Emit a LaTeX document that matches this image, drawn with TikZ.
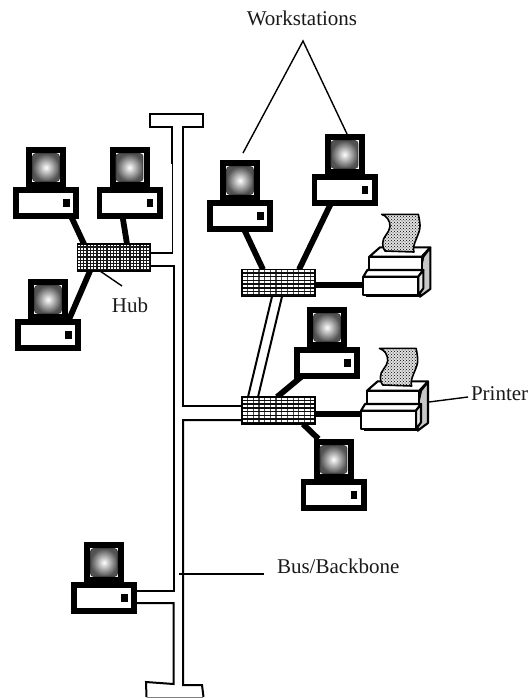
\documentclass[tikz,border=0pt]{standalone}
\usepackage{fontspec}
\setmainfont{Liberation Serif}
\usetikzlibrary{backgrounds,patterns}
\tikzset{
  x=1pt,y=-1pt,
  lab/.style={font=\fontsize{21}{25}\selectfont,inner sep=0pt,outer sep=0pt,text=black!90},
  basebox/.style={draw=black,line width=5.6pt,fill=white,minimum width=60.4pt,minimum height=26.4pt,inner sep=0pt,outer sep=0pt},
  monbox/.style={fill=black,minimum width=40pt,minimum height=40pt,inner sep=0pt,outer sep=0pt},
  frontbox/.style={draw=black,line width=2.1pt,fill=white,minimum width=55pt,minimum height=18.3pt,inner sep=0pt,outer sep=0pt},
  thicklink/.style={line width=5.8pt,black},
  bus/.style={line width=2pt,black,line join=miter},
  leader/.style={line width=1.4pt,black},
  hubbox/.style={draw=black,line width=1.5pt,fill=white,minimum width=73pt,minimum height=27pt,inner sep=0pt,outer sep=0pt},
  hubfine/.style={hubbox,path picture={
    \foreach \i in {3,6.3,...,73}{\draw[line width=1.3pt,black!90] ([xshift=\i pt]path picture bounding box.north west)--([xshift=\i pt]path picture bounding box.south west);}
    \foreach \j in {3,6.3,...,27}{\draw[line width=1.3pt,black!90] ([yshift=-\j pt]path picture bounding box.north west)--([yshift=-\j pt]path picture bounding box.north east);}
  }},
  hubwide/.style={hubbox,path picture={
    \foreach \i in {5.5,11.2,...,73}{\draw[line width=1.2pt,black!70] ([xshift=\i pt]path picture bounding box.north west)--([xshift=\i pt]path picture bounding box.south west);}
    \foreach \j in {3.5,7.2,...,27}{\draw[line width=1.5pt,black!95] ([yshift=-\j pt]path picture bounding box.north west)--([yshift=-\j pt]path picture bounding box.north east);}
  }},
  computer/.pic={
    \node[monbox] (-mon) at (33,-20) {};
    \fill[white] (19,-34) rectangle (47,-5);
    \path[rounded corners=3pt,inner color=white,outer color=black!68,draw=black!75,line width=.9pt] (19.6,-33.4) rectangle (46.4,-5.6);
    \node[basebox] (-base) at (33,16) {};
    \fill[black] (50,11.7) rectangle (56.7,20);
  },
  printer/.pic={
    \begin{scope}[x=.3333pt,y=-.3333pt,line width=2.1pt,line join=round]
      \filldraw[fill=black!22] (205,155) -- (226,128) -- (226,252) -- (195,275) -- (195,200) -- cycle;
      \filldraw[fill=white] (43,155) -- (75,127) -- (226,127) -- (200,155) -- cycle;
      \filldraw[fill=white] (43,155) rectangle (200,197);
      \filldraw[line width=1.6pt,fill=black!12] (80,28) .. controls (95,32) and (106,48) .. (105,65) .. controls (103,85) and (82,95) .. (83,115) .. controls (84,128) and (86,134) .. (90,138) -- (177,141) .. controls (168,120) and (198,85) .. (195,60) .. controls (194,48) and (192,36) .. (190,28) -- cycle;
      \fill[pattern=crosshatch dots,pattern color=black] (80,28) .. controls (95,32) and (106,48) .. (105,65) .. controls (103,85) and (82,95) .. (83,115) .. controls (84,128) and (86,134) .. (90,138) -- (177,141) .. controls (168,120) and (198,85) .. (195,60) .. controls (194,48) and (192,36) .. (190,28) -- cycle;
      \filldraw[fill=white] (25,215) -- (37,195) -- (205,195) -- (190,215) -- cycle;
      \filldraw[fill=black!10] (190,215) -- (205,195) -- (205,250) -- (190,270) -- cycle;
      \node[frontbox] (-front) at (107.5,242.5) {};
      \draw[line width=1.8pt] (33,274) -- (192,274);
    \end{scope}
  }
}
\begin{document}
\begin{tikzpicture}
\useasboundingbox (0,0) rectangle (529,698);
% computers
\pic (c1) at (13,187) {computer};
\pic (c2) at (96.5,187) {computer};
\pic (c3) at (15,319) {computer};
\pic (c4) at (207,200) {computer};
\pic (c5) at (311.5,174) {computer};
\pic (c6) at (294,347) {computer};
\pic (c7) at (300.5,479) {computer};
\pic (c8) at (71,582) {computer};
% printers
\pic (p1) at (355,205) {printer};
\pic (p2) at (352.7,339) {printer};
% hubs
\node[hubfine] (hub1) at (114,257.5) {};
\node[hubwide] (hub2) at (278.5,283) {};
\node[hubwide] (hub3) at (278.5,410.5) {};
% labels
\node[lab,anchor=base] (wk) at (302,25.7) {Workstations};
\node[lab,anchor=base] (hublab) at (130,312) {Hub};
\node[lab,anchor=base west] (prlab) at (471,400) {Printer};
\node[lab,anchor=base west] (buslab) at (277,573.5) {Bus/Backbone};
% free ends
\coordinate (apex) at (303,41);
\coordinate (hubtip) at (122,286);
\coordinate (busmark) at (179,574);
\coordinate (busend) at (264,574);
\coordinate (prtip) at (429,402);
\coordinate (prend) at (468,397);
\begin{scope}[on background layer]
  \draw[thicklink] ([xshift=25pt]c1-base.south) -- ([xshift=-30pt]hub1.north);
  \draw[thicklink] ([xshift=-7pt]c2-base.south) -- ([xshift=13pt]hub1.north);
  \draw[thicklink] ([xshift=-24pt]hub1.south) -- ([xshift=20pt]c3-base.north);
  \draw[thicklink] ([xshift=4pt]c4-base.south) -- ([xshift=-15.5pt]hub2.north);
  \draw[thicklink] ([xshift=-13.5pt]c5-base.south) -- ([xshift=20.5pt]hub2.north);
  \draw[thicklink] ([yshift=-2pt]hub2.east) -- ([yshift=-2pt]hub2.east -| p1-front.west);
  \draw[thicklink] ([xshift=-25pt]c6-base.south) -- ([xshift=-1.5pt]hub3.north);
  \draw[thicklink] ([xshift=24.5pt]hub3.south) -- ([xshift=-15pt]c7-mon.north);
  \draw[thicklink] ([yshift=-3.5pt]hub3.east) -- ([yshift=-3.5pt]hub3.east -| p2-front.west);
  \draw[bus] ([xshift=-6.5pt]hub2.south) -- ([xshift=-30.5pt]hub3.north);
  \draw[bus] ([xshift=3.5pt]hub2.south) -- ([xshift=-20.5pt]hub3.north);
  % backbone
  \draw[line width=1.2pt] ([yshift=4.5pt]hub1.east) -- (172.3,253) -- (172.3,163);
  \draw[bus] (172.3,164) -- (172.3,127) -- (150,127) -- (150,114) -- (203,114) -- (203,127) -- (183,127) -- (183,406) -- ([yshift=4.5pt]hub3.west);
  \draw[bus] ([yshift=-8.5pt]hub1.east) -- (173.5,266) -- (173.5,591) -- ([yshift=7pt]c8-base.east);
  \draw[bus] ([yshift=-5pt]c8-base.east) -- (173.5,603) -- (173.5,684) -- (146,682) -- (146.5,697);
  \draw[line width=.6pt,black!50] (146.5,697) -- (203,697);
  \draw[bus] (203.5,697) -- (202,685) -- (183,685) -- (183,420) -- ([yshift=-9.5pt]hub3.west);
  % leaders
  \draw[leader] ([xshift=3pt,yshift=7pt]c4-mon.north) -- (apex) -- ([xshift=2.5pt]c5-mon.north);
  \draw[leader] ([xshift=-14pt]hub1.south) -- (hubtip);
  \draw[leader] (busmark) -- (busend);
  \draw[leader] (prtip) -- (prend);
\end{scope}
\end{tikzpicture}
\end{document}
